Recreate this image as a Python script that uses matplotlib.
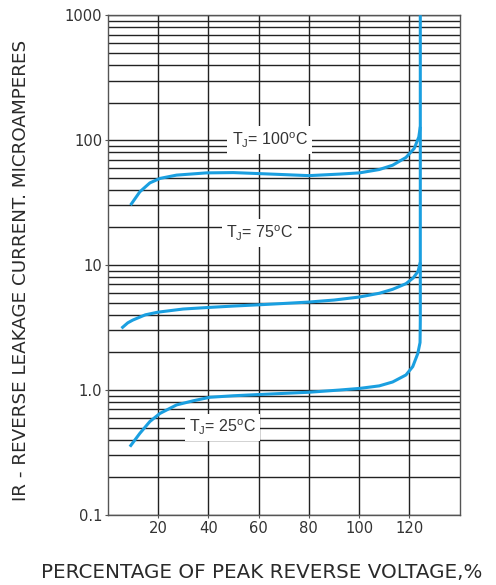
import matplotlib
matplotlib.use("Agg")
import matplotlib.pyplot as plt
from matplotlib.ticker import FixedLocator, NullFormatter, LogLocator

plt.rcParams['font.family'] = ['DejaVu Sans']
plt.rcParams['mathtext.default'] = 'regular'

# data
x_25 = [8.85, 12.8, 16.8, 20.8, 27.4, 34, 40.6, 50, 60, 70, 80, 92.2, 100.1, 108, 113.3, 118.6, 121.3, 123.3, 124.2, 124.3, 124.3]
y_25 = [0.352, 0.45, 0.56, 0.65, 0.76, 0.82, 0.875, 0.90, 0.92, 0.94, 0.96, 1.0, 1.03, 1.08, 1.16, 1.32, 1.54, 1.96, 2.4, 3.6, 1000]
x_75 = [5.5, 8, 10, 15, 20, 30, 40, 50, 60, 70, 80, 90, 100, 108, 113.3, 118.6, 121.5, 123.4, 124.3]
y_75 = [3.12, 3.45, 3.63, 4.0, 4.2, 4.45, 4.58, 4.7, 4.81, 4.93, 5.06, 5.25, 5.55, 5.95, 6.4, 7.1, 7.9, 8.9, 10.5]
x_100 = [9.1, 12.8, 16.8, 20.8, 27.4, 39.3, 50, 60, 70, 80, 92.2, 100.1, 108, 113.3, 118.6, 121.9, 123.7, 124.3]
y_100 = [30.2, 38.6, 45.5, 49.4, 52.5, 54.7, 55, 54, 53, 52, 53.5, 54.7, 58.2, 63, 72.7, 85.9, 106, 128]

curve_labels = ['T$_J$= 25$^o$C', 'T$_J$= 75$^o$C', 'T$_J$= 100$^o$C']
label_x = [45.6, 60.5, 64.4]
label_y = [0.50, 18, 100]

x_ticks = [20, 40, 60, 80, 100, 120]
y_ticks = [0.1, 1.0, 10, 100, 1000]
y_tick_labels = ['0.1', '1.0', '10', '100', '1000']

blue = '#1a9fe0'

fig = plt.figure(figsize=(4.96, 5.85), dpi=100)
ax = fig.add_axes([0.217, 0.1197, 0.710, 0.8543])
ax.set_yscale('log')
ax.set_xlim(0, 140)
ax.set_ylim(0.1, 1000)

ax.xaxis.set_major_locator(FixedLocator(x_ticks))
ax.set_xticklabels([str(v) for v in x_ticks])
ax.yaxis.set_major_locator(FixedLocator(y_ticks))
ax.set_yticklabels(y_tick_labels)
ax.yaxis.set_minor_locator(LogLocator(base=10, subs=range(2, 10)))
ax.yaxis.set_minor_formatter(NullFormatter())

ax.grid(True, which='major', axis='x', color='#222222', lw=1.0)
ax.grid(True, which='both', axis='y', color='#222222', lw=1.0)
ax.set_axisbelow(True)

for sp in ax.spines.values():
    sp.set_color('#555555')
    sp.set_linewidth(1.0)

ax.tick_params(axis='both', which='both', length=2, colors='#555555', labelcolor='#333333', labelsize=10.6, pad=2)
ax.tick_params(axis='y', which='minor', length=0)

for xs, ys in [(x_25, y_25), (x_75, y_75), (x_100, y_100)]:
    ax.plot(xs, ys, color=blue, lw=2.2, solid_capstyle='butt', zorder=3)

for t, lx, ly in zip(curve_labels, label_x, label_y):
    ax.text(lx, ly, t, ha='center', va='center', fontsize=11.5, color='#333333', zorder=4,
            family=['Liberation Sans', 'DejaVu Sans'],
            bbox=dict(facecolor='white', edgecolor='none', pad=3))

fig.text(262 / 496, 1 - 572 / 585, 'PERCENTAGE OF PEAK REVERSE VOLTAGE,%', ha='center', va='center',
         fontsize=14.3, color='#2a2a2a')
fig.text(21 / 496, 1 - 270 / 585, 'IR - REVERSE LEAKAGE CURRENT. MICROAMPERES', ha='center', va='center',
         rotation=90, fontsize=13.2, color='#2a2a2a')

fig.savefig('out.png', dpi=100)
